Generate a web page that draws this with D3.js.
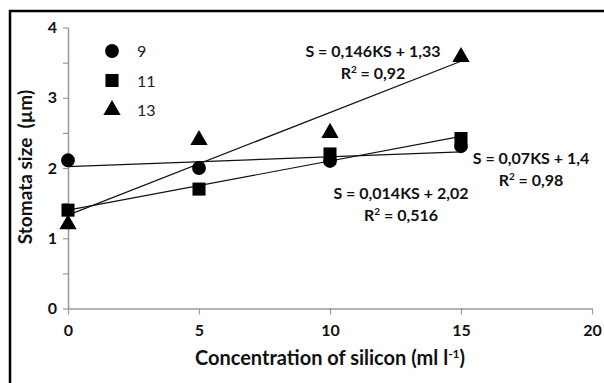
<!DOCTYPE html>
<html>
<head>
<meta charset="utf-8">
<script src="https://cdn.jsdelivr.net/npm/d3@7"></script>
<style>
  body { margin: 0; background: #fff; }
  svg { font-family: Lato, "Open Sans", sans-serif; }
</style>
</head>
<body>
<script>
// concentration of silicon (ml l-1)
var conc = [0, 5, 10, 15];
var seriesNames = ["9", "11", "13"];
var s9 = [2.11, 2.0, 2.1, 2.31];
var s11 = [1.4, 1.7, 2.2, 2.42];
var s13 = [1.2, 2.4, 2.5, 3.58];
// trend line coefficients (slope, intercept)
var slopes = [0.014, 0.07, 0.146];
var intercepts = [2.02, 1.4, 1.33];
var eqLabels = ["S = 0,014KS + 2,02", "S = 0,07KS + 1,4", "S = 0,146KS + 1,33"];
var r2Labels = ["0,516", "0,98", "0,92"];
var xTicks = [0, 5, 10, 15, 20];
var yTicks = [0, 1, 2, 3, 4];

var W = 604, H = 383;
var svg = d3.select("body").append("svg")
    .attr("width", W)
    .attr("height", H);

// frame (only left + top show in the picture)
svg.append("path")
    .attr("d", "M10,383 V11 H604")
    .attr("fill", "none")
    .attr("stroke", "#000")
    .attr("stroke-width", 2.5);

var x = d3.scaleLinear().domain([0, 20]).range([68, 592]);
var y = d3.scaleLinear().domain([0, 4]).range([308.5, 27.5]);

// axes
var xAxis = svg.append("g")
    .attr("transform", "translate(0," + y(0) + ")")
    .call(d3.axisBottom(x).tickValues(xTicks).tickSize(6).tickSizeOuter(0).tickPadding(10));
var yAxis = svg.append("g")
    .attr("transform", "translate(" + x(0) + ",0)")
    .call(d3.axisLeft(y).tickValues(d3.range(0, 4.01, 0.5)).tickSize(5).tickSizeOuter(0).tickPadding(6)
      .tickFormat(function(d) { return yTicks.indexOf(d) >= 0 ? d : ""; }));

[xAxis, yAxis].forEach(function(g) {
  g.select(".domain").attr("stroke", "#9a9a9a").attr("stroke-width", 1.5);
  g.selectAll(".tick line").attr("stroke", "#9a9a9a").attr("stroke-width", 1.2);
  g.selectAll(".tick text")
      .attr("fill", "#111")
      .attr("font-size", 16)
      .attr("font-weight", "bold")
      .attr("font-family", "Lato, sans-serif");
});

// trend lines
var line = d3.line().x(function(d) { return x(d[0]); }).y(function(d) { return y(d[1]); });
slopes.forEach(function(s, i) {
  svg.append("path")
      .attr("d", line([[0, intercepts[i]], [15, intercepts[i] + s * 15]]))
      .attr("fill", "none")
      .attr("stroke", "#111")
      .attr("stroke-width", 1.2);
});

// markers
var symbols = [d3.symbolCircle, d3.symbolSquare, d3.symbolTriangle];
var sizes = [150, 170, 130];
var allSeries = [s9, s11, s13];
allSeries.forEach(function(vals, i) {
  svg.append("g").selectAll("path")
    .data(vals)
    .join("path")
      .attr("transform", function(d, j) { return "translate(" + x(conc[j]) + "," + y(d) + ")"; })
      .attr("d", d3.symbol().type(symbols[i]).size(sizes[i]))
      .attr("fill", "#000");
});

// legend
var legend = svg.append("g");
seriesNames.forEach(function(name, i) {
  var ly = 51 + i * 29.5;
  legend.append("path")
      .attr("transform", "translate(112," + ly + ")")
      .attr("d", d3.symbol().type(symbols[i]).size(sizes[i]))
      .attr("fill", "#000");
  legend.append("text")
      .attr("x", 137)
      .attr("y", ly + 6)
      .attr("font-size", 16)
      .attr("fill", "#222")
      .text(name);
});

// equation labels [x centre, baseline]
var eqPos = [[401, 199], [531, 164], [373, 57]];
eqLabels.forEach(function(t, i) {
  svg.append("text")
      .attr("x", eqPos[i][0])
      .attr("y", eqPos[i][1])
      .attr("text-anchor", "middle")
      .attr("font-size", 16)
      .attr("font-weight", "bold")
      .attr("fill", "#111")
      .text(t);
  var r = svg.append("text")
      .attr("x", eqPos[i][0])
      .attr("y", eqPos[i][1] + 22)
      .attr("text-anchor", "middle")
      .attr("font-size", 16)
      .attr("font-weight", "bold")
      .attr("fill", "#111");
  r.append("tspan").text("R");
  r.append("tspan").attr("dy", -6).attr("font-size", 10).text("2");
  r.append("tspan").attr("dy", 6).text(" = " + r2Labels[i]);
});

// axis titles
var xt = svg.append("text")
    .attr("x", 330)
    .attr("y", 365)
    .attr("text-anchor", "middle")
    .attr("font-size", 20)
    .attr("font-weight", "bold")
    .attr("fill", "#111");
xt.append("tspan").text("Concentration of silicon (ml l");
xt.append("tspan").attr("dy", -7).attr("font-size", 12).text("-1");
xt.append("tspan").attr("dy", 7).text(")");

svg.append("text")
    .attr("transform", "translate(32,167) rotate(-90)")
    .attr("text-anchor", "middle")
    .attr("font-size", 19)
    .attr("font-weight", "bold")
    .attr("fill", "#111")
    .attr("xml:space", "preserve")
    .style("white-space", "pre")
    .text("Stomata size  (\u00b5m)");
</script>
</body>
</html>
